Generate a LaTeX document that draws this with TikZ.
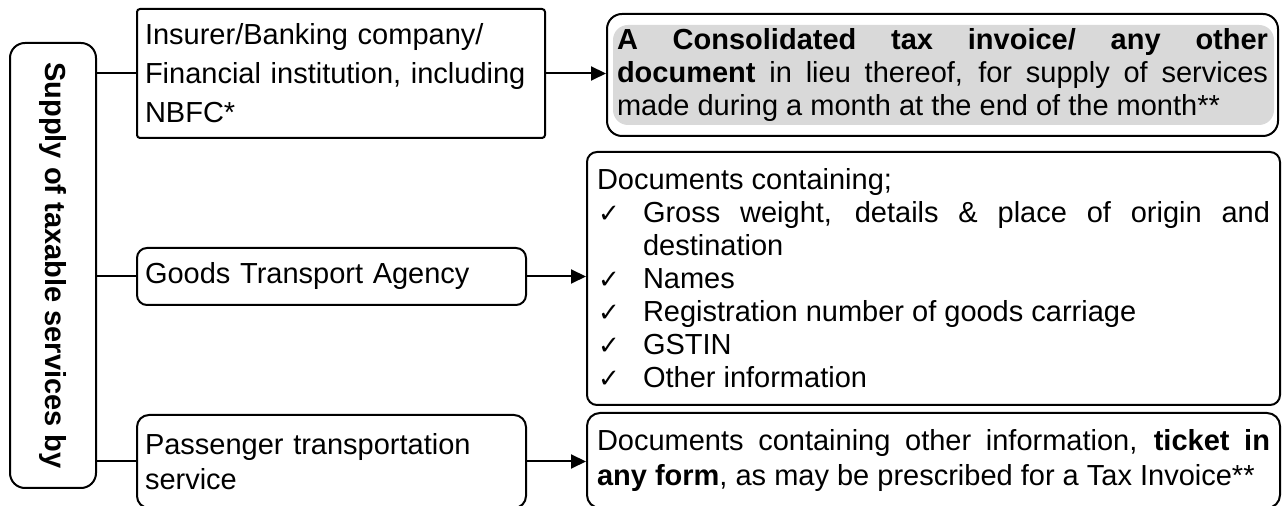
\documentclass[tikz,border=0pt]{standalone}
\usepackage{fontspec}
\setmainfont{Liberation Sans}
\newfontfamily\symfont{DejaVu Sans}
\usepackage{graphicx}
\usetikzlibrary{arrows.meta,calc}
\definecolor{shadefill}{RGB}{217,217,217}
\newcommand\chkitem[1]{\par\hangindent=23pt\hangafter=1\noindent\makebox[23pt][l]{\hspace{0.5pt}{\symfont\fontsize{13}{13}\selectfont ✓}}#1}
\begin{document}
\begin{tikzpicture}[x=0.5pt,y=-0.5pt,
  box/.style={draw,line width=1pt,inner xsep=4pt,inner ysep=0pt,
    execute at begin node={\tolerance=10000\hbadness=10000\hyphenpenalty=10000\parindent=0pt}},
  conn/.style={line width=1pt},
  arr/.style={line width=1pt,-{Triangle[length=7.5pt,width=7pt]}}]
\useasboundingbox (0,0) rectangle (1284,506);

% left vertical box
\node[box,rounded corners=7.5pt,minimum width=43pt,minimum height=222.5pt,
  font=\fontsize{14.5}{16.5}\selectfont] (lbox) at (53,265.5)
  {\rotatebox{-90}{\bfseries Supply of taxable services by}};

% left column boxes
\node[box,rounded corners=1.5pt,minimum width=204pt,minimum height=64.5pt,
  text width=196pt,align=left,font=\fontsize{14.5}{19.5}\selectfont] (b1) at (341,73.5)
  {Insurer/Banking company/\\ Financial institution, including\\ NBFC*};

\node[box,rounded corners=5pt,minimum width=194.5pt,minimum height=28.5pt,
  text width=186.5pt,align=left,font=\fontsize{14.5}{16.5}\selectfont] (gta) at (331.5,276.5)
  {Goods Transport Agency};

\node[box,rounded corners=6pt,minimum width=194.5pt,minimum height=46.5pt,
  text width=186.5pt,align=left,font=\fontsize{14.5}{17.5}\selectfont] (pass) at (331.5,461.5)
  {Passenger transportation\\ service};

% right column boxes
\node[box,rounded corners=7.5pt,minimum width=335.5pt,minimum height=61pt,
  inner xsep=5pt,text width=325.5pt,align=justify,font=\fontsize{14.5}{16.5}\selectfont,
  path picture={\fill[shadefill] ($(path picture bounding box.north west)+(6,11)$)
    rectangle ($(path picture bounding box.south east)+(-4,-11)$);}] (b2) at (942.5,75)
  {\textbf{A Consolidated tax invoice/ any other}\linebreak\textbf{document} in lieu thereof, for supply of services\linebreak made during a month at the end of the month**};

\node[box,rounded corners=5pt,minimum width=346.5pt,minimum height=126.5pt,
  inner xsep=5pt,text width=336.5pt,align=justify,font=\fontsize{14.5}{16.5}\selectfont] (b4) at (933.5,278.5)
  {Documents containing;
   \chkitem{Gross weight, details \& place of origin and\linebreak destination}
   \chkitem{Names}
   \chkitem{Registration number of goods carriage}
   \chkitem{GSTIN}
   \chkitem{Other information}};

\node[box,rounded corners=6.5pt,minimum width=346.5pt,minimum height=47.5pt,
  inner xsep=5pt,text width=336.5pt,align=justify,font=\fontsize{14.5}{17.5}\selectfont] (b6) at (933.5,460.5)
  {Documents containing other information, \textbf{ticket in}\linebreak\textbf{any form}, as may be prescribed for a Tax Invoice**};

% connectors
\draw[conn] (lbox.east |- b1.west) -- (b1.west);
\draw[conn] (lbox.east |- gta.west) -- (gta.west);
\draw[conn] (lbox.east |- pass.west) -- (pass.west);

\draw[arr] (b1.east) -- (b2.west |- b1.east);
\draw[arr] (gta.east) -- (b4.west |- gta.east);
\draw[arr] (pass.east) -- (b6.west |- pass.east);
\end{tikzpicture}
\end{document}
